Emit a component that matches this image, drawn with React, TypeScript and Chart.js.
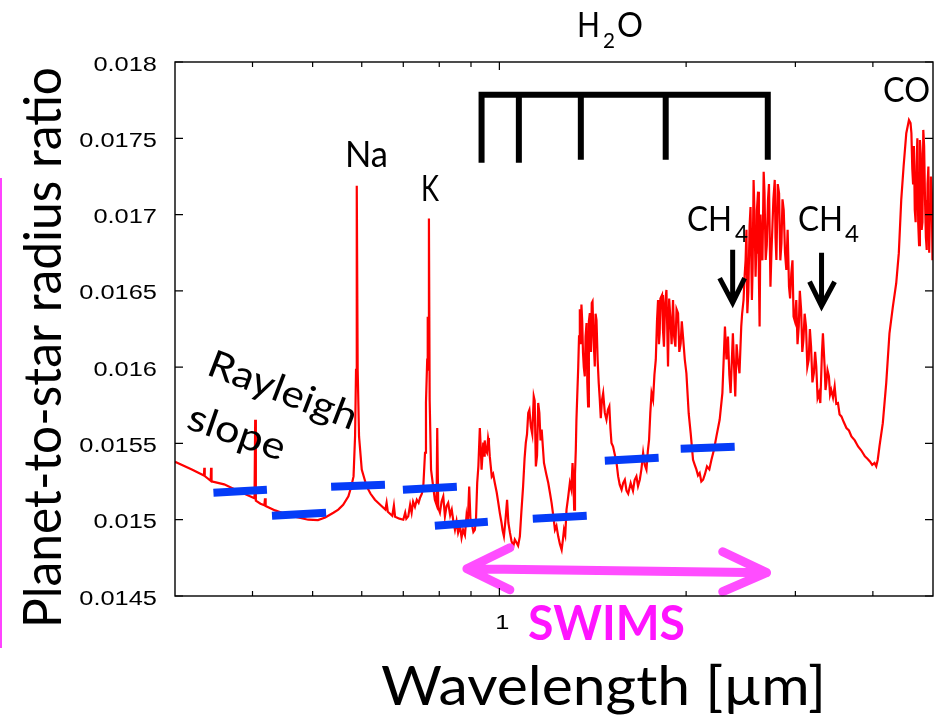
import React, { useEffect, useRef } from 'react';
import { Chart, registerables } from 'chart.js';

Chart.register(...registerables);

// ---- model spectrum (wavelength in µm) ----
const wavelength = [
  0.300, 0.320, 0.3340, 0.3345, 0.3350, 0.3425, 0.3430, 0.3436, 0.360, 0.380,
  0.398, 0.403, 0.404, 0.405, 0.412, 0.418, 0.419, 0.420, 0.435, 0.460,
  0.492, 0.510, 0.524, 0.540, 0.550, 0.560, 0.571, 0.577, 0.582, 0.5853,
  0.5874, 0.5890, 0.5910, 0.594, 0.600, 0.611, 0.620, 0.630, 0.645, 0.655,
  0.658, 0.661, 0.672, 0.676, 0.679, 0.690, 0.700, 0.705, 0.708, 0.713,
  0.718, 0.722, 0.726, 0.731, 0.736, 0.741, 0.745, 0.750, 0.754, 0.7588,
  0.7615, 0.7650, 0.7665, 0.7680, 0.7699, 0.7720, 0.776, 0.782, 0.787, 0.792,
  0.794, 0.797, 0.802, 0.807, 0.812, 0.817, 0.822, 0.827, 0.833, 0.838,
  0.843, 0.848, 0.853, 0.858, 0.864, 0.869, 0.874, 0.880, 0.885, 0.889,
  0.894, 0.898, 0.902, 0.908, 0.913, 0.917, 0.921, 0.925, 0.930, 0.933,
  0.936, 0.942, 0.945, 0.947, 0.950, 0.955, 0.959, 0.962, 0.965, 0.968,
  0.972, 0.977, 0.983, 0.990, 0.996, 1.002, 1.008, 1.012, 1.017, 1.023,
  1.029, 1.034, 1.040, 1.046, 1.053, 1.059, 1.066, 1.072, 1.079, 1.085,
  1.092, 1.098, 1.103, 1.108, 1.113, 1.118, 1.124, 1.130, 1.136, 1.140,
  1.145, 1.150, 1.155, 1.160, 1.165, 1.170, 1.180, 1.190, 1.199, 1.206,
  1.214, 1.222, 1.229, 1.236, 1.244, 1.252, 1.260, 1.266, 1.271, 1.277,
  1.283, 1.291, 1.299, 1.306, 1.312, 1.316, 1.320, 1.324, 1.328, 1.331,
  1.335, 1.340, 1.344, 1.348, 1.352, 1.356, 1.360, 1.364, 1.368, 1.373,
  1.377, 1.382, 1.386, 1.390, 1.394, 1.399, 1.405, 1.409, 1.413, 1.418,
  1.425, 1.429, 1.434, 1.440, 1.446, 1.451, 1.457, 1.463, 1.470, 1.479,
  1.488, 1.496, 1.504, 1.510, 1.516, 1.525, 1.535, 1.544, 1.554, 1.563,
  1.574, 1.583, 1.593, 1.603, 1.613, 1.628, 1.642, 1.652, 1.663, 1.673,
  1.684, 1.694, 1.705, 1.715, 1.726, 1.735, 1.743, 1.751, 1.759, 1.769,
  1.778, 1.787, 1.795, 1.802, 1.808, 1.813, 1.818, 1.829, 1.835, 1.842,
  1.850, 1.859, 1.864, 1.870, 1.878, 1.887, 1.895, 1.905, 1.913, 1.922,
  1.930, 1.941, 1.950, 1.960, 1.968, 1.977, 1.990, 2.002, 2.019, 2.034,
  2.052, 2.065, 2.078, 2.090, 2.103, 2.116, 2.130, 2.145, 2.161, 2.180,
  2.197, 2.218, 2.238, 2.265, 2.288, 2.310, 2.323, 2.336, 2.348, 2.359,
  2.379, 2.390, 2.400, 2.412, 2.423, 2.438, 2.454, 2.462, 2.475, 2.485,
  2.494, 2.502, 2.510, 2.520, 2.531, 2.540, 2.553, 2.560, 2.569, 2.578,
  2.588, 2.594, 2.601, 2.612, 2.620, 2.627, 2.636, 2.644, 2.655, 2.667,
  2.675, 2.687, 2.698, 2.710, 2.720, 2.735, 2.745, 2.755, 2.765, 2.779,
  2.787, 2.796, 2.810, 2.824, 2.837, 2.849, 2.860, 2.873, 2.887, 2.901,
  2.915, 2.930, 2.942, 2.955, 2.968, 2.980, 2.995, 3.010, 3.024, 3.038,
  3.050, 3.065, 3.078, 3.091, 3.105, 3.121, 3.136, 3.152, 3.166, 3.180,
  3.196, 3.213, 3.228, 3.242, 3.258, 3.274, 3.291, 3.311, 3.323, 3.344,
  3.355, 3.365, 3.380, 3.398, 3.412, 3.427, 3.450, 3.471, 3.492, 3.514,
  3.535, 3.559, 3.590, 3.626, 3.660, 3.694, 3.740, 3.786, 3.830, 3.883,
  3.920, 3.956, 3.990, 4.024, 4.050, 4.073, 4.099, 4.150, 4.203, 4.254,
  4.308, 4.362, 4.404, 4.444, 4.483, 4.528, 4.573, 4.600, 4.615, 4.630,
  4.643, 4.658, 4.673, 4.688, 4.704, 4.718, 4.733, 4.748, 4.763, 4.778,
  4.794, 4.808, 4.823, 4.838, 4.854, 4.870, 4.885, 4.900, 4.915, 4.930,
  4.946, 4.962, 4.977, 4.990, 5.000,
];

// ---- planet-to-star radius ratio for each wavelength ----
const radiusRatio = [
  0.015380, 0.015328, 0.015290, 0.015341, 0.015286, 0.015255, 0.015341, 0.015252, 0.015232, 0.015187,
  0.015150, 0.015140, 0.015655, 0.015125, 0.015105, 0.015095, 0.015140, 0.015090, 0.015061, 0.015026,
  0.015000, 0.014998, 0.015015, 0.015046, 0.015066, 0.015098, 0.015153, 0.015216, 0.015284, 0.015546,
  0.015983, 0.017189, 0.015983, 0.015546, 0.015328, 0.015218, 0.015170, 0.015131, 0.015092, 0.015066,
  0.015111, 0.015052, 0.015026, 0.015092, 0.015020, 0.015007, 0.015000, 0.015046, 0.015007, 0.015022,
  0.015098, 0.015046, 0.015118, 0.015085, 0.015131, 0.015111, 0.015144, 0.015170, 0.015218, 0.015439,
  0.015767, 0.016049, 0.016331, 0.015983, 0.016975, 0.015786, 0.015328, 0.015218, 0.015131, 0.015098,
  0.015601, 0.015078, 0.015046, 0.015120, 0.015153, 0.015022, 0.015090, 0.015111, 0.015030, 0.015066,
  0.014990, 0.014934, 0.014990, 0.014915, 0.014960, 0.014882, 0.014934, 0.014900, 0.015022, 0.014960,
  0.015218, 0.015010, 0.014980, 0.014920, 0.014934, 0.015010, 0.015242, 0.015350, 0.015601, 0.015480,
  0.015328, 0.015505, 0.015420, 0.015520, 0.015459, 0.015440, 0.015535, 0.015500, 0.015415, 0.015360,
  0.015284, 0.015300, 0.015242, 0.015180, 0.015111, 0.015040, 0.014980, 0.014930, 0.014891, 0.015000,
  0.015131, 0.014980, 0.014915, 0.014860, 0.014825, 0.014870, 0.014849, 0.014830, 0.014891, 0.015050,
  0.015218, 0.015400, 0.015503, 0.015560, 0.015699, 0.015720, 0.015611, 0.015560, 0.015808, 0.015780,
  0.015349, 0.015420, 0.015765, 0.015700, 0.015520, 0.015590, 0.015372, 0.015300, 0.015241, 0.015180,
  0.015109, 0.015020, 0.014934, 0.014960, 0.014891, 0.014840, 0.014803, 0.014870, 0.014934, 0.014900,
  0.015066, 0.015150, 0.015241, 0.015200, 0.015372, 0.015260, 0.015066, 0.015300, 0.015459, 0.015650,
  0.015808, 0.016000, 0.016202, 0.016380, 0.016150, 0.016410, 0.016300, 0.016093, 0.016000, 0.015939,
  0.016200, 0.016289, 0.015900, 0.015743, 0.016300, 0.016354, 0.016100, 0.016420, 0.016430, 0.016200,
  0.016004, 0.016350, 0.016309, 0.016050, 0.015894, 0.015800, 0.015665, 0.015780, 0.015829, 0.015700,
  0.015655, 0.015720, 0.015743, 0.015600, 0.015503, 0.015480, 0.015426, 0.015380, 0.015284, 0.015230,
  0.015197, 0.015240, 0.015262, 0.015190, 0.015170, 0.015240, 0.015190, 0.015260, 0.015284, 0.015220,
  0.015262, 0.015330, 0.015437, 0.015360, 0.015328, 0.015450, 0.015524, 0.015700, 0.015830, 0.015786,
  0.015950, 0.016049, 0.016300, 0.016440, 0.016150, 0.016222, 0.016450, 0.016473, 0.016250, 0.016134,
  0.016420, 0.016506, 0.016280, 0.016004, 0.016450, 0.016309, 0.016150, 0.016440, 0.016200, 0.016134,
  0.016380, 0.016353, 0.016100, 0.016156, 0.016300, 0.016200, 0.016050, 0.015960, 0.015698, 0.015567,
  0.015393, 0.015360, 0.015328, 0.015290, 0.015306, 0.015250, 0.015262, 0.015300, 0.015349, 0.015330,
  0.015393, 0.015460, 0.015546, 0.015655, 0.015830, 0.016266, 0.016050, 0.016200, 0.015950, 0.015830,
  0.016222, 0.016000, 0.015808, 0.016150, 0.016047, 0.015960, 0.016266, 0.016350, 0.016440, 0.016600,
  0.016702, 0.016900, 0.016353, 0.016500, 0.016921, 0.017050, 0.016440, 0.016650, 0.017227, 0.017000,
  0.016593, 0.016750, 0.017030, 0.017150, 0.016600, 0.016266, 0.017000, 0.016812, 0.016700, 0.017281,
  0.017150, 0.016702, 0.016800, 0.017096, 0.017200, 0.016527, 0.016750, 0.016921, 0.017100, 0.017227,
  0.016850, 0.016702, 0.017200, 0.017139, 0.016700, 0.016812, 0.017100, 0.017030, 0.016750, 0.016637,
  0.016900, 0.016527, 0.016450, 0.016615, 0.016700, 0.016331, 0.016300, 0.016440, 0.016150, 0.016266,
  0.016500, 0.016375, 0.016100, 0.016178, 0.016350, 0.016266, 0.016000, 0.016047, 0.016250, 0.016134,
  0.015900, 0.015960, 0.016100, 0.016004, 0.015800, 0.015830, 0.015765, 0.016093, 0.016222, 0.016004,
  0.015850, 0.015894, 0.015980, 0.015939, 0.015820, 0.015851, 0.015800, 0.015873, 0.015760, 0.015765,
  0.015690, 0.015677, 0.015640, 0.015601, 0.015585, 0.015546, 0.015520, 0.015480, 0.015455, 0.015415,
  0.015400, 0.015382, 0.015360, 0.015372, 0.015350, 0.015393, 0.015480, 0.015633, 0.015895, 0.016222,
  0.016397, 0.016550, 0.016747, 0.017096, 0.017315, 0.017533, 0.017620, 0.017600, 0.017533, 0.017300,
  0.017205, 0.017450, 0.017030, 0.016950, 0.017315, 0.017500, 0.016943, 0.016800, 0.017489, 0.017400,
  0.016899, 0.016950, 0.017555, 0.017450, 0.017096, 0.016850, 0.016768, 0.017200, 0.017315, 0.016750,
  0.017052, 0.017250, 0.017139, 0.016700, 0.016812,
];

// ---- binned points (blue bars) ----
const binStart = [0.346, 0.430, 0.5355, 0.699, 0.787, 1.132, 1.479, 1.960];
const binEnd = [0.422, 0.5256, 0.654, 0.854, 0.958, 1.383, 1.806, 2.395];
const binStartRatio = [0.015177, 0.015026, 0.015216, 0.015197, 0.014961, 0.015007, 0.015387, 0.015465];
const binEndRatio = [0.015197, 0.015046, 0.015229, 0.015216, 0.014987, 0.015026, 0.015406, 0.015478];

// ---- H2O band bracket ----
const h2oBands = [0.936, 1.075, 1.353, 1.854, 2.708];
const h2oLegBottom = [0.017340, 0.017340, 0.017360, 0.017360, 0.017360];
const h2oTop = 0.017785;

// ---- CH4 arrows ----
const ch4Bands = [2.377, 3.306];
const ch4Tail = [0.016770, 0.016749];
const ch4Tip = [0.016422, 0.016401];
const ch4HeadLeft = [2.265, 3.162];
const ch4HeadRight = [2.485, 3.470];
const ch4HeadBase = [0.016584, 0.016560];

// ---- SWIMS coverage arrow ----
const swimsEnds = [0.8865, 2.696];
const swimsShaft = [0.014679, 0.014653];
const swimsHeadX = [1.0397, 2.291];
const swimsHeadUpper = [0.014816, 0.014790];
const swimsHeadLower = [0.014541, 0.014528];

// ---- axes ----
const xTickValues = [0.4, 0.5, 0.6, 0.7, 0.8, 0.9, 1, 2, 3, 4];
const xTickLabels = ['', '', '', '', '', '', '1', '', '', ''];
const xMin = 0.3;
const xMax = 5;
const yMin = 0.0145;
const yMax = 0.018;
const yStep = 0.0005;

type Lbl = { text: string; x: number; y: number; size: number; width: number; angle?: number; bold?: boolean; color?: string };
const textLabels: Lbl[] = [
  { text: 'Planet-to-star radius ratio', x: 61, y: 628, size: 53, width: 561, angle: -90 },
  { text: 'Wavelength [µm]', x: 381, y: 705, size: 54, width: 445 },
  { text: 'SWIMS', x: 528, y: 640, size: 48, width: 157, bold: true, color: '#ff14ff' },
  { text: 'Na', x: 345, y: 167, size: 36, width: 43 },
  { text: 'K', x: 421, y: 201, size: 37, width: 18 },
  { text: 'H', x: 577, y: 37, size: 35, width: 23 },
  { text: '2', x: 603, y: 48, size: 21, width: 12 },
  { text: 'O', x: 617, y: 37, size: 35, width: 26 },
  { text: 'CO', x: 883, y: 102, size: 35, width: 47 },
  { text: 'CH', x: 687, y: 231, size: 34, width: 45 },
  { text: '4', x: 735, y: 242, size: 24, width: 13 },
  { text: 'CH', x: 798, y: 231, size: 34, width: 45 },
  { text: '4', x: 845, y: 242, size: 24, width: 14 },
  { text: 'Rayleigh', x: 205, y: 374, size: 38, width: 157, angle: 21 },
  { text: 'slope', x: 185, y: 428, size: 38, width: 101, angle: 19 },
];

type P = { x: number; y: number | null };

function buildBars(): P[] {
  const out: P[] = [];
  binStart.forEach((s, i) => {
    out.push({ x: s, y: binStartRatio[i] });
    out.push({ x: binEnd[i], y: binEndRatio[i] });
    out.push({ x: binEnd[i], y: null });
  });
  return out;
}

function buildBracket(): P[] {
  const n = h2oBands.length - 1;
  const out: P[] = [
    { x: h2oBands[0], y: h2oLegBottom[0] },
    { x: h2oBands[0], y: h2oTop },
    { x: h2oBands[n], y: h2oTop },
    { x: h2oBands[n], y: h2oLegBottom[n] },
    { x: h2oBands[n], y: null },
  ];
  for (let i = 1; i < n; i++) {
    out.push({ x: h2oBands[i], y: h2oTop });
    out.push({ x: h2oBands[i], y: h2oLegBottom[i] });
    out.push({ x: h2oBands[i], y: null });
  }
  return out;
}

function buildCh4(): P[] {
  const out: P[] = [];
  ch4Bands.forEach((b, i) => {
    out.push({ x: b, y: ch4Tail[i] }, { x: b, y: ch4Tip[i] }, { x: b, y: null });
    out.push({ x: ch4HeadLeft[i], y: ch4HeadBase[i] }, { x: b, y: ch4Tip[i] }, { x: ch4HeadRight[i], y: ch4HeadBase[i] }, { x: b, y: null });
  });
  return out;
}

function buildSwims(): P[] {
  return [
    { x: swimsEnds[0], y: swimsShaft[0] }, { x: swimsEnds[1], y: swimsShaft[1] }, { x: swimsEnds[1], y: null },
    { x: swimsHeadX[0], y: swimsHeadUpper[0] }, { x: swimsEnds[0], y: swimsShaft[0] }, { x: swimsHeadX[0], y: swimsHeadLower[0] }, { x: swimsEnds[0], y: null },
    { x: swimsHeadX[1], y: swimsHeadUpper[1] }, { x: swimsEnds[1], y: swimsShaft[1] }, { x: swimsHeadX[1], y: swimsHeadLower[1] },
  ];
}

const TICK_FONT = '20px "Liberation Sans", Arial, sans-serif';
const TICK_STRETCH = 1.27;

const decorPlugin = {
  id: 'decor',
  afterDraw(chart: any) {
    const { ctx, chartArea: a, scales } = chart;
    const xs = scales.x;
    const ys = scales.y;
    ctx.save();
    // frame
    ctx.strokeStyle = '#000';
    ctx.lineWidth = 1.4;
    ctx.strokeRect(a.left, a.top, a.right - a.left, a.bottom - a.top);
    // inward ticks
    ctx.lineWidth = 1.2;
    ctx.beginPath();
    xs.ticks.forEach((t: any) => {
      const px = xs.getPixelForValue(t.value);
      const len = t.value === 1 ? 8 : 5;
      ctx.moveTo(px, a.bottom);
      ctx.lineTo(px, a.bottom - len);
      ctx.moveTo(px, a.top);
      ctx.lineTo(px, a.top + len);
    });
    ys.ticks.forEach((t: any) => {
      const py = ys.getPixelForValue(t.value);
      ctx.moveTo(a.left, py);
      ctx.lineTo(a.left + 8, py);
      ctx.moveTo(a.right, py);
      ctx.lineTo(a.right - 8, py);
    });
    ctx.stroke();
    // tick labels (Helvetica-like, horizontally stretched as in the reference)
    ctx.fillStyle = '#000';
    ctx.font = TICK_FONT;
    ctx.textBaseline = 'alphabetic';
    ys.ticks.forEach((t: any) => {
      const py = ys.getPixelForValue(t.value);
      const s = String(Number(Number(t.value).toFixed(4)));
      ctx.save();
      ctx.translate(a.left - 18, py + 8.5);
      ctx.scale(TICK_STRETCH, 1);
      ctx.textAlign = 'right';
      ctx.fillText(s, 0, 0);
      ctx.restore();
    });
    xTickValues.forEach((v, i) => {
      const s = xTickLabels[i];
      if (!s) return;
      const px = xs.getPixelForValue(v);
      ctx.save();
      ctx.translate(px + 3, a.bottom + 33);
      ctx.scale(TICK_STRETCH, 1);
      ctx.textAlign = 'center';
      ctx.fillText(s, 0, 0);
      ctx.restore();
    });
    // magenta edge line at the far left
    ctx.strokeStyle = '#ff44ff';
    ctx.lineWidth = 2;
    ctx.beginPath();
    ctx.moveTo(1, 178);
    ctx.lineTo(1, 648);
    ctx.stroke();
    // annotation texts
    textLabels.forEach((l) => {
      ctx.save();
      ctx.translate(l.x, l.y);
      if (l.angle) ctx.rotate((l.angle * Math.PI) / 180);
      ctx.font = `${l.bold ? 'bold ' : ''}${l.size}px Lato, "Open Sans", sans-serif`;
      ctx.textAlign = 'left';
      ctx.textBaseline = 'alphabetic';
      ctx.fillStyle = l.color || '#000';
      const w = ctx.measureText(l.text).width;
      ctx.scale(l.width / w, 1);
      ctx.fillText(l.text, 0, 0);
      ctx.restore();
    });
    ctx.restore();
  },
};

export default function App() {
  const ref = useRef<HTMLCanvasElement | null>(null);
  useEffect(() => {
    let chart: Chart | null = null;
    let cancelled = false;
    const make = () => {
      if (cancelled || !ref.current) return;
      chart = new Chart(ref.current, {
        type: 'scatter',
        data: {
          datasets: [
            {
              data: wavelength.map((w, i) => ({ x: w, y: radiusRatio[i] })),
              showLine: true,
              borderColor: '#ff0000',
              borderWidth: 2.2,
              pointRadius: 0,
              tension: 0,
              order: 5,
            },
            {
              data: buildBars() as any,
              showLine: true,
              borderColor: 'rgb(5,60,248)',
              borderWidth: 8,
              borderCapStyle: 'butt',
              pointRadius: 0,
              spanGaps: false,
              order: 3,
            },
            {
              data: buildBracket() as any,
              showLine: true,
              borderColor: '#000',
              borderWidth: 6,
              borderCapStyle: 'butt',
              borderJoinStyle: 'miter',
              pointRadius: 0,
              spanGaps: false,
              clip: false,
              order: 2,
            },
            {
              data: buildCh4() as any,
              showLine: true,
              borderColor: '#000',
              borderWidth: 5,
              borderCapStyle: 'butt',
              borderJoinStyle: 'miter',
              pointRadius: 0,
              spanGaps: false,
              order: 2,
            },
            {
              data: buildSwims() as any,
              showLine: true,
              borderColor: 'rgb(255,77,255)',
              borderWidth: 9,
              borderCapStyle: 'round',
              borderJoinStyle: 'round',
              pointRadius: 0,
              spanGaps: false,
              clip: false,
              order: 1,
            },
          ] as any,
        },
        options: {
          animation: false,
          responsive: false,
          devicePixelRatio: 1,
          events: [],
          layout: { padding: { left: 0, right: 2, top: 62, bottom: 0 } },
          plugins: { legend: { display: false }, tooltip: { enabled: false } },
          scales: {
            x: {
              type: 'logarithmic',
              min: xMin,
              max: xMax,
              position: 'bottom',
              grid: { display: false, drawTicks: false },
              border: { display: false },
              afterBuildTicks: (s: any) => {
                s.ticks = xTickValues.map((v) => ({ value: v }));
              },
              afterFit: (s: any) => {
                s.height = 122;
              },
              ticks: { display: false, autoSkip: false, maxRotation: 0, minRotation: 0 },
            },
            y: {
              type: 'linear',
              min: yMin,
              max: yMax,
              position: 'left',
              grid: { display: false, drawTicks: false },
              border: { display: false },
              afterFit: (s: any) => {
                s.width = 175;
              },
              ticks: { display: false, stepSize: yStep },
            },
          },
        } as any,
        plugins: [decorPlugin],
      });
    };
    const fonts = (document as any).fonts;
    if (fonts && fonts.load) {
      Promise.all([
        fonts.load('35px Lato'),
        fonts.load('bold 47px Lato'),
        fonts.load('20px "Liberation Sans"'),
      ]).then(make, make);
    } else {
      make();
    }
    return () => {
      cancelled = true;
      if (chart) chart.destroy();
    };
  }, []);
  return (
    <div style={{ position: 'fixed', left: 0, top: 0, width: 935, height: 718, background: '#fff' }}>
      <canvas ref={ref} width={935} height={718} style={{ width: 935, height: 718, display: 'block' }} />
    </div>
  );
}
